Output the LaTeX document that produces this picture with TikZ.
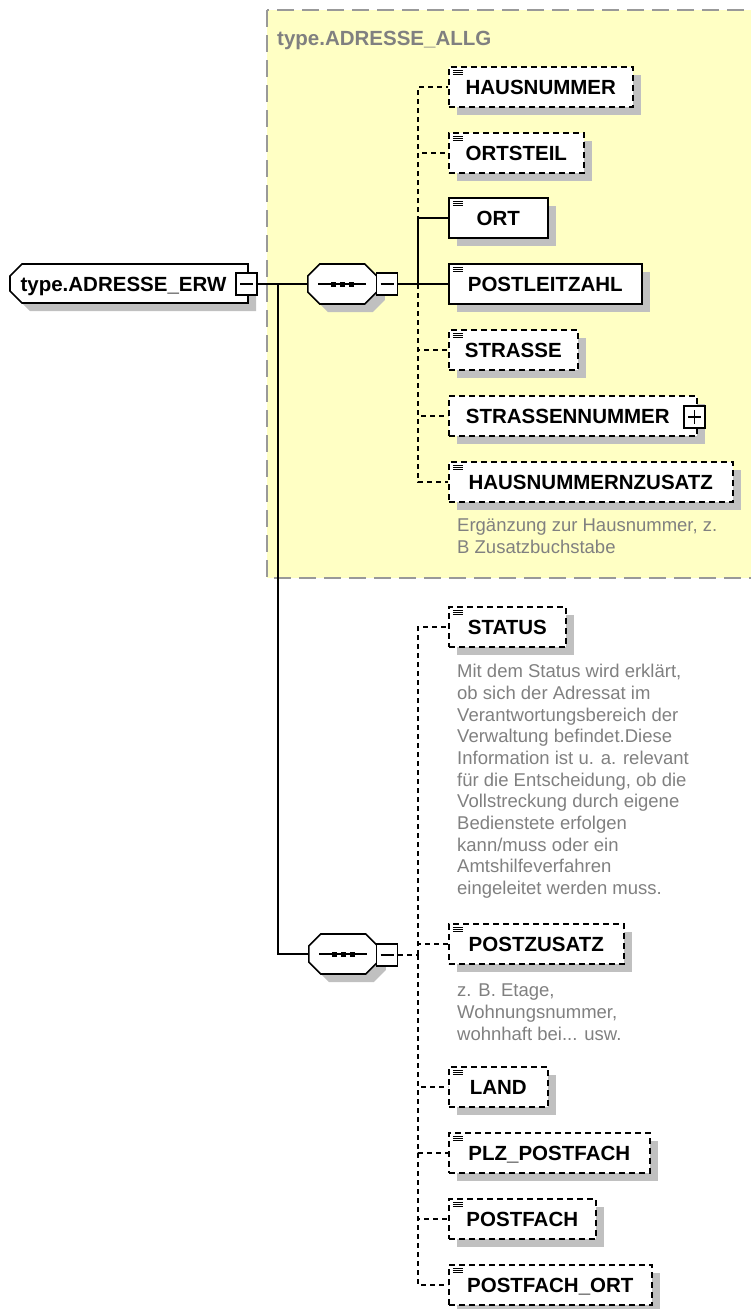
\documentclass[tikz,border=0pt]{standalone}
\usepackage{fontspec}
\setmainfont{Liberation Sans}
\usepackage{tikz}
\usetikzlibrary{shapes.misc}
\usetikzlibrary{shadows}
\definecolor{typebg}{RGB}{255,255,196}
\definecolor{typeframe}{RGB}{153,153,153}
\definecolor{annogray}{RGB}{128,128,128}
\definecolor{shadowgray}{RGB}{192,192,192}

\begin{document}
\begin{tikzpicture}[x=1pt, y=-1pt,
    shade/.style={drop shadow={shadow xshift=8pt, shadow yshift=-8pt, fill=shadowgray, opacity=1}},
    label/.style={font=\bfseries\fontsize{20.5}{24}\selectfont, text height=14pt, text depth=0pt},
    elem/.style={label, draw, line width=1.6pt, fill=white, shade, anchor=west, minimum height=40, inner sep=0pt},
    optelem/.style={elem, dash pattern=on 6pt off 4pt},
    doc/.style={path picture={
      \draw[line width=1pt, solid, black] ([shift={(4pt,-3pt)}]path picture bounding box.north west) -- ++(10pt,0pt);
      \draw[line width=1pt, solid, black] ([shift={(4pt,-5.3pt)}]path picture bounding box.north west) -- ++(10pt,0pt);
      \draw[line width=1pt, solid, black] ([shift={(4pt,-7.6pt)}]path picture bounding box.north west) -- ++(10pt,0pt);}},
    seq/.style={chamfered rectangle, chamfered rectangle angle=45, chamfered rectangle xsep=6pt, chamfered rectangle ysep=6pt,
      draw, line width=1.6pt, fill=white, shade, inner xsep=28.5pt, inner ysep=14pt, text height=0pt, text depth=0pt, anchor=west,
      path picture={
      \draw[line width=1.2pt, solid, black] ([xshift=-24pt]path picture bounding box.center) -- ([xshift=24pt]path picture bounding box.center);
      \fill[black] ([xshift=-9pt]path picture bounding box.center) +(-2.5pt,-2.5pt) rectangle +(2.5pt,2.5pt);
      \fill[black] (path picture bounding box.center) +(-2.5pt,-2.5pt) rectangle +(2.5pt,2.5pt);
      \fill[black] ([xshift=9pt]path picture bounding box.center) +(-2.5pt,-2.5pt) rectangle +(2.5pt,2.5pt);}},
    tog/.style={draw=black, line width=1.2pt, fill=white, minimum width=21, minimum height=22, inner sep=0pt,
      path picture={\draw[line width=1.2pt, black] ([xshift=4pt]path picture bounding box.west) -- ([xshift=-4pt]path picture bounding box.east);}},
    togplus/.style={draw=black, line width=1.2pt, fill=white, minimum width=21, minimum height=22, inner sep=0pt,
      path picture={\draw[line width=1.2pt, black] ([xshift=4pt]path picture bounding box.west) -- ([xshift=-4pt]path picture bounding box.east);
      \draw[line width=1.2pt, black] ([yshift=4pt]path picture bounding box.south) -- ([yshift=-4pt]path picture bounding box.north);}},
    desc/.style={anchor=north west, align=left, inner sep=0pt, text=annogray, font=\fontsize{18.5}{21.7}\selectfont},
    reqline/.style={line width=1.2pt},
    optline/.style={line width=1.2pt, dash pattern=on 5pt off 4pt}]
      \useasboundingbox (0,0) rectangle (750,1309);
      \draw[line width=2pt, draw=typeframe, fill=typebg, dash pattern=on 17pt off 8pt] (267,10) rectangle (775,578);
      \node[anchor=base west, inner sep=0pt, text=annogray, font=\bfseries\fontsize{20.5}{24}\selectfont] (allg) at (277,45) {type.ADRESSE\_ALLG};
      \node[label, chamfered rectangle, chamfered rectangle corners={north west,south west}, chamfered rectangle angle=45,
        chamfered rectangle xsep=6pt, chamfered rectangle ysep=6pt,
        draw, line width=1.6pt, fill=white, shade, minimum width=238, minimum height=39, inner sep=0pt, text height=16pt] (root) at (129,283.5) {type.ADRESSE\_ERW\rule{11pt}{0pt}};
      \node[tog] (rootm) at (246.5,284) {};
      \node[seq] (seqA) at (307,284) {};
      \node[tog] (seqAm) at (387,284) {};
      \node[seq] (seqB) at (308,954) {};
      \node[tog] (seqBm) at (387,955) {};
      \node[optelem, doc, minimum width=184] (hausnr) at (448,87) {HAUSNUMMER};
      \node[optelem, doc, minimum width=135] (ortsteil) at (448,153) {ORTSTEIL};
      \node[elem, doc, minimum width=99] (ort) at (448,218) {ORT};
      \node[elem, doc, minimum width=193] (plz) at (448,284) {POSTLEITZAHL};
      \node[optelem, doc, minimum width=129] (strasse) at (448,350) {STRASSE};
      \node[optelem, minimum width=248] (strnr) at (448,416) {STRASSENNUMMER\rule{10pt}{0pt}};
      \node[togplus] (strnrp) at (694.5,417) {};
      \node[optelem, doc, minimum width=284] (hnrzus) at (448,482) {HAUSNUMMERNZUSATZ};
      \node[desc] (hnrzusdesc) at (457,519) {Ergänzung zur Hausnummer, z.\\B Zusatzbuchstabe};
      \node[optelem, doc, minimum width=117] (status) at (448,627) {STATUS};
      \node[desc] (statusdesc) at (457,664) {Mit dem Status wird erklärt,\\ob sich der Adressat im\\Verantwortungsbereich der\\Verwaltung befindet.Diese\\Information ist u. a. relevant\\für die Entscheidung, ob die\\Vollstreckung durch eigene\\Bedienstete erfolgen\\kann/muss oder ein\\Amtshilfeverfahren\\eingeleitet werden muss.};
      \node[optelem, doc, minimum width=175] (postzus) at (448,944) {POSTZUSATZ};
      \node[desc] (postzusdesc) at (457,984) {z. B. Etage,\\Wohnungsnummer,\\wohnhaft bei... usw.};
      \node[optelem, doc, minimum width=99] (land) at (448,1087) {LAND};
      \node[optelem, doc, minimum width=201] (plzpf) at (448,1153) {PLZ\_POSTFACH};
      \node[optelem, doc, minimum width=147] (postfach) at (448,1219) {POSTFACH};
      \node[optelem, doc, minimum width=203] (pfort) at (448,1285) {POSTFACH\_ORT};
      \coordinate (busR) at (278,284);
      \coordinate (busA) at (418,284);
      \coordinate (busB) at (418,955);
      \draw[reqline] (rootm.east) -- (seqA.west);
      \draw[reqline] (busR) |- (seqB.west);
      \draw[reqline] (seqAm.east) -- (busA);
      \draw[optline] (busA) |- (hausnr.west);
      \draw[optline] (busA) |- (ortsteil.west);
      \draw[optline] (busA) |- (strasse.west);
      \draw[optline] (busA) |- (strnr.west);
      \draw[optline] (busA) |- (hnrzus.west);
      \draw[reqline] (busA) |- (ort.west);
      \draw[reqline] (busA) -- (plz.west);
      \draw[optline] (seqBm.east) -- (busB);
      \draw[optline] (busB) |- (status.west);
      \draw[optline] (busB) |- (postzus.west);
      \draw[optline] (busB) |- (land.west);
      \draw[optline] (busB) |- (plzpf.west);
      \draw[optline] (busB) |- (postfach.west);
      \draw[optline] (busB) |- (pfort.west);
    \end{tikzpicture}
\end{document}
